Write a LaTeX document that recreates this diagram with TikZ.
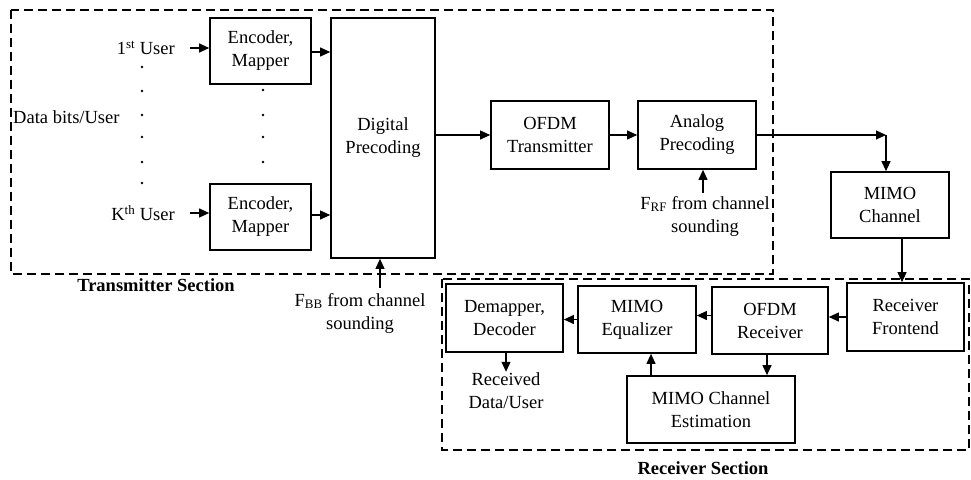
\documentclass[tikz,border=0pt]{standalone}
\usepackage{fontspec}
\setmainfont{Liberation Serif}
\usetikzlibrary{arrows.meta,calc}
\begin{document}
\begin{tikzpicture}[x=1pt,y=-1pt,
  font=\fontsize{18.5}{23}\selectfont,
  blk/.style={draw, line width=1.7pt, align=center, inner sep=0pt},
  arr/.style={line width=1.1pt, -{Triangle[length=10pt,width=9pt]}},
  sect/.style={draw, line width=1.8pt, dash pattern=on 9pt off 5pt},
  lbl/.style={align=center, inner sep=1pt},
  secttxt/.style={font=\fontsize{18.5}{23}\selectfont\bfseries, inner sep=0pt}]
\useasboundingbox (0,0) rectangle (971,479);

% section frames
\draw[sect] (11,10) rectangle (773,274);
\draw[sect] (442,279) rectangle (969,450);
\node[secttxt] (txsec) at (156,285) {Transmitter Section};
\node[secttxt] (rxsec) at (703,468) {Receiver Section};

% transmitter blocks
\node[blk, minimum width=101pt, minimum height=66pt] (enc1) at (260.5,51) {Encoder,\\Mapper};
\node[blk, minimum width=101pt, minimum height=66pt] (encK) at (260.5,217) {Encoder,\\Mapper};
\node[blk, minimum width=104pt, minimum height=240pt] (dig) at (383,138) {Digital\\Precoding};
\node[blk, minimum width=118pt, minimum height=68pt] (ofdmt) at (550,135) {OFDM\\Transmitter};
\node[blk, minimum width=118pt, minimum height=68pt] (ana) at (697,135) {Analog\\Precoding};

% channel
\node[blk, minimum width=118pt, minimum height=66pt] (chan) at (890,205) {MIMO\\Channel};

% receiver blocks
\node[blk, minimum width=117pt, minimum height=68pt] (rfe) at (905.5,317) {Receiver\\Frontend};
\node[blk, minimum width=116pt, minimum height=67pt] (ofdmr) at (770,320.5) {OFDM\\Receiver};
\node[blk, minimum width=118pt, minimum height=67pt] (eq) at (637,319.5) {MIMO\\Equalizer};
\node[blk, minimum width=117pt, minimum height=68pt] (dem) at (504.5,318) {Demapper,\\Decoder};
\node[blk, minimum width=168pt, minimum height=67pt] (est) at (711,409.5) {MIMO Channel\\Estimation};

% inputs and side labels
\node[lbl, anchor=east] (u1) at (176,48) {1\textsuperscript{st} User};
\node[lbl, anchor=east] (uK) at (176,213) {K\textsuperscript{th} User};
\node[lbl, anchor=west] (bits) at (12,117) {Data bits/User};
\node[lbl] (fbb) at (360,313) {F\textsubscript{BB} from channel\\sounding};
\node[lbl] (frf) at (705,216) {F\textsubscript{RF} from channel\\sounding};
\node[lbl] (rx) at (506,391) {Received\\Data/User};

% ellipsis dots
\foreach \y in {67,91,115,137,162,183} \fill (142,\y) circle (1.3pt);
\foreach \y in {90,115,137,162} \fill (263,\y) circle (1.3pt);

% transmitter connectors
\draw[arr] ([xshift=14pt]u1.east) -- (enc1.west |- u1.east);
\draw[arr] ([xshift=14pt]uK.east) -- (encK.west |- uK.east);
\draw[arr] ([yshift=-1pt]enc1.east) -- ([yshift=-1pt]enc1.east -| dig.west);
\draw[arr] ([yshift=2pt]encK.east) -- ([yshift=2pt]encK.east -| dig.west);
\draw[arr] (dig.east |- ofdmt.west) -- (ofdmt.west);
\draw[arr] (ofdmt.east) -- (ana.west);
\draw[arr] ([xshift=20pt,yshift=4pt]fbb.north) -- ([xshift=20pt]fbb.north |- dig.south);
\draw[arr] ([xshift=-2pt,yshift=2pt]frf.north) -- ([xshift=-2pt]frf.north |- ana.south);

% path through the channel
\coordinate (bend) at (886,135);
\draw[arr] (ana.east) -- (bend);
\draw[arr] (bend) -- (bend |- chan.north);
\draw[arr] ([xshift=12pt]chan.south) -- ([xshift=12pt]chan.south |- rfe.north);

% receiver connectors
\draw[arr] (rfe.west) -- (rfe.west -| ofdmr.east);
\draw[arr] ([yshift=5pt]ofdmr.west) -- ([yshift=5pt]ofdmr.west -| eq.east);
\draw[arr] (eq.west) -- (eq.west -| dem.east);
\draw[arr] ([xshift=-3pt]ofdmr.south) -- ([xshift=-3pt]ofdmr.south |- est.north);
\draw[arr] ([xshift=14pt]eq.south |- est.north) -- ([xshift=14pt]eq.south);
\draw[arr] ([xshift=1.5pt]dem.south) -- ([xshift=1.5pt]dem.south |- rx.north);
\end{tikzpicture}
\end{document}
